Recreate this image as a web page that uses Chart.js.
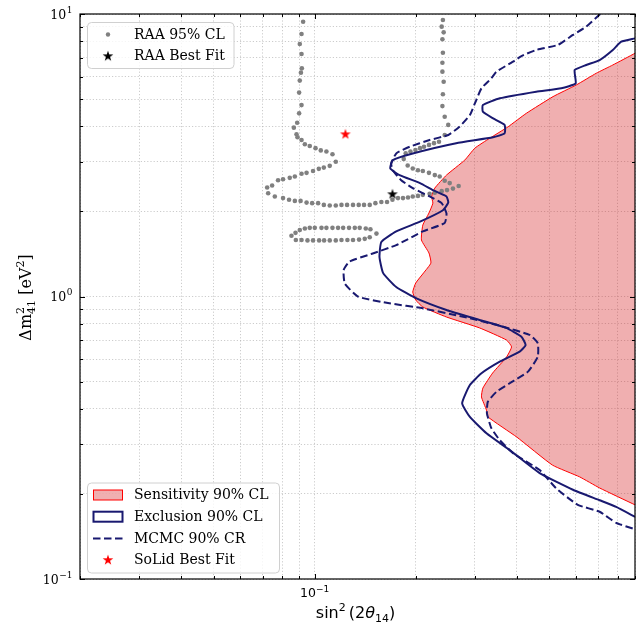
<!DOCTYPE html>
<html>
<head>
<meta charset="utf-8">
<script src="https://cdn.jsdelivr.net/npm/chart.js@4.4.1/dist/chart.umd.min.js"></script>
<style>
  html, body { margin: 0; padding: 0; background: #fff; }
  canvas { display: block; }
</style>
</head>
<body>
<canvas id="chart" width="641" height="626"></canvas>
<script>
// grid / tick positions of the two log axes
const xGridTicks = [0.02, 0.03, 0.04, 0.05, 0.06, 0.07, 0.08, 0.09, 0.1, 0.2, 0.3, 0.4, 0.5, 0.6, 0.7, 0.8, 0.9];
const yGridTicks = [0.1, 0.2, 0.3, 0.4, 0.5, 0.6, 0.7, 0.8, 0.9, 1, 2, 3, 4, 5, 6, 7, 8, 9, 10];

// every point is [sin^2(2θ14), Δm²41 (eV²)]
// sensitivity contour, top to bottom (filled to the right)
const sensitivity90 = [
  [0.9, 7.26], [0.773, 6.60], [0.690, 6.17], [0.602, 5.61], [0.513, 5.10], [0.427, 4.45],
  [0.377, 3.99], [0.332, 3.63], [0.300, 3.35], [0.280, 3.04], [0.247, 2.69], [0.228, 2.42],
  [0.223, 2.26], [0.225, 2.14], [0.219, 1.975], [0.210, 1.79], [0.208, 1.585], [0.219, 1.426],
  [0.222, 1.314], [0.211, 1.211], [0.200, 1.116], [0.196, 1.037], [0.200, 0.972], [0.210, 0.918],
  [0.247, 0.846], [0.310, 0.774], [0.373, 0.701], [0.386, 0.663], [0.373, 0.611], [0.339, 0.536],
  [0.317, 0.474], [0.314, 0.441], [0.325, 0.396], [0.328, 0.375], [0.400, 0.318], [0.511, 0.253],
  [0.615, 0.230], [0.706, 0.210], [0.9, 0.183]
];

const exclusion90 = [
  [0.9, 8.20], [0.819, 7.98], [0.773, 7.46], [0.706, 6.87], [0.644, 6.60], [0.595, 6.33],
  [0.599, 5.68], [0.543, 5.46], [0.457, 5.31], [0.356, 5.03], [0.317, 4.76], [0.317, 4.51],
  [0.340, 4.27], [0.368, 4.05], [0.368, 3.78], [0.340, 3.66], [0.264, 3.49], [0.196, 3.21],
  [0.171, 3.04], [0.168, 2.84], [0.179, 2.69], [0.206, 2.52], [0.225, 2.38], [0.247, 2.26],
  [0.250, 2.15], [0.241, 2.02], [0.206, 1.84], [0.175, 1.70], [0.158, 1.56], [0.156, 1.38],
  [0.160, 1.21], [0.175, 1.08], [0.201, 0.985], [0.247, 0.896], [0.310, 0.826], [0.372, 0.774],
  [0.413, 0.721], [0.425, 0.673], [0.408, 0.638], [0.356, 0.588], [0.314, 0.535], [0.290, 0.486],
  [0.275, 0.419], [0.290, 0.375], [0.325, 0.328], [0.381, 0.286], [0.468, 0.237], [0.588, 0.207],
  [0.706, 0.190], [0.791, 0.180], [0.9, 0.166]
];

const mcmc90 = [
  [0.709, 10.0], [0.644, 9.02], [0.588, 8.43], [0.530, 7.77], [0.457, 7.46], [0.413, 7.10],
  [0.390, 6.78], [0.348, 6.25], [0.336, 5.92], [0.314, 5.46], [0.303, 4.96], [0.290, 4.39],
  [0.270, 3.99], [0.250, 3.73], [0.220, 3.58], [0.192, 3.39], [0.175, 3.21], [0.169, 2.96],
  [0.171, 2.80], [0.181, 2.58], [0.196, 2.42], [0.220, 2.26], [0.239, 2.14], [0.247, 1.97],
  [0.244, 1.82], [0.210, 1.70], [0.175, 1.52], [0.149, 1.42], [0.127, 1.33], [0.122, 1.24],
  [0.123, 1.11], [0.135, 0.998], [0.167, 0.946], [0.210, 0.908], [0.277, 0.848], [0.364, 0.782],
  [0.437, 0.731], [0.462, 0.683], [0.462, 0.612], [0.432, 0.542], [0.381, 0.493], [0.348, 0.460],
  [0.328, 0.424], [0.326, 0.386], [0.336, 0.342], [0.356, 0.310], [0.390, 0.279], [0.468, 0.243],
  [0.525, 0.209], [0.608, 0.183], [0.706, 0.173], [0.791, 0.158], [0.9, 0.150]
];

const raaContour = [
  [0.0924, 9.39], [0.0914, 8.50], [0.0903, 7.83], [0.0914, 7.22], [0.0916, 6.42], [0.0910, 6.20],
  [0.0903, 5.81], [0.0899, 5.27], [0.0914, 4.76], [0.0899, 4.45], [0.0887, 4.12], [0.0867, 3.96],
  [0.0883, 3.75], [0.0889, 3.66], [0.0914, 3.58], [0.0935, 3.46], [0.0967, 3.41], [0.1006, 3.35],
  [0.1043, 3.29], [0.1084, 3.26], [0.1130, 3.19], [0.1156, 3.00], [0.1109, 2.90], [0.1065, 2.86],
  [0.1029, 2.83], [0.0989, 2.78], [0.0946, 2.74], [0.0914, 2.72], [0.0873, 2.66], [0.0843, 2.63],
  [0.0805, 2.60], [0.0778, 2.58], [0.0747, 2.47], [0.0722, 2.43], [0.0727, 2.32], [0.0761, 2.26],
  [0.0805, 2.23], [0.0839, 2.20], [0.0873, 2.18], [0.0908, 2.18], [0.0946, 2.15], [0.0983, 2.14],
  [0.1024, 2.14], [0.1065, 2.11], [0.1109, 2.10], [0.1156, 2.10], [0.1202, 2.11], [0.1249, 2.11],
  [0.1301, 2.11], [0.1353, 2.11], [0.1403, 2.11], [0.1459, 2.11], [0.1517, 2.14], [0.158, 2.16],
  [0.1643, 2.16], [0.1705, 2.20], [0.1771, 2.23], [0.1833, 2.23], [0.1897, 2.24], [0.196, 2.26],
  [0.2031, 2.27], [0.210, 2.29], [0.220, 2.31], [0.228, 2.33], [0.239, 2.36], [0.2479, 2.38],
  [0.2582, 2.41], [0.2685, 2.46], [0.2525, 2.52], [0.244, 2.57], [0.2358, 2.66], [0.228, 2.69],
  [0.219, 2.74], [0.210, 2.78], [0.2031, 2.80], [0.196, 2.84], [0.1893, 2.91], [0.1842, 3.07],
  [0.1867, 3.21], [0.1929, 3.26], [0.1996, 3.30], [0.206, 3.35], [0.2117, 3.39], [0.2191, 3.44],
  [0.2267, 3.49], [0.2346, 3.53], [0.244, 3.73], [0.250, 4.05], [0.244, 4.33], [0.2402, 4.72],
  [0.241, 5.20], [0.2423, 5.76], [0.2402, 6.25], [0.2402, 6.72], [0.241, 7.29], [0.2402, 8.14],
  [0.2423, 8.61], [0.239, 9.02], [0.241, 9.52]
];

const raaIsland = [
  [0.0903, 1.72], [0.0935, 1.74], [0.0967, 1.75], [0.1001, 1.75], [0.1048, 1.75], [0.1084, 1.75],
  [0.1130, 1.75], [0.1174, 1.75], [0.1216, 1.75], [0.1266, 1.75], [0.1317, 1.75], [0.1362, 1.75],
  [0.1420, 1.74], [0.1466, 1.73], [0.1528, 1.67], [0.1459, 1.62], [0.1410, 1.60], [0.1356, 1.59],
  [0.1301, 1.585], [0.1252, 1.585], [0.1202, 1.585], [0.1156, 1.58], [0.1109, 1.58], [0.1067, 1.58],
  [0.1031, 1.58], [0.0989, 1.58], [0.0952, 1.58], [0.0914, 1.585], [0.0879, 1.585], [0.0853, 1.64],
  [0.0877, 1.68]
];

const raaBestFit = [[0.1705, 2.30]];
const solidBestFit = [[0.1235, 3.75]];

const legendTop = ['RAA 95% CL', 'RAA Best Fit'];
const legendBottom = ['Sensitivity 90% CL', 'Exclusion 90% CL', 'MCMC 90% CR', 'SoLid Best Fit'];

const NAVY = '#191970';
const RED_FILL = 'rgba(214, 39, 40, 0.37)';
const GRAY = '#808080';
const DASH = [7.5, 3.5];

const toXY = arr => arr.map(([x, y]) => ({ x, y }));

// filled five point star, used as a point style
function starCanvas(color, r) {
  const c = document.createElement('canvas');
  const s = Math.ceil(r * 2 + 2);
  c.width = s;
  c.height = s;
  const g = c.getContext('2d');
  g.translate(s / 2, s / 2);
  g.beginPath();
  for (let i = 0; i < 10; i++) {
    const rad = i % 2 ? r * 0.382 : r;
    const a = -Math.PI / 2 + i * Math.PI / 5;
    g.lineTo(rad * Math.cos(a), rad * Math.sin(a));
  }
  g.closePath();
  g.fillStyle = color;
  g.fill();
  return c;
}
const blackStar = starCanvas('#000000', 5.6);
const redStar = starCanvas('#ff0000', 5.6);

function roundRect(ctx, x, y, w, h, r) {
  ctx.beginPath();
  ctx.moveTo(x + r, y);
  ctx.arcTo(x + w, y, x + w, y + h, r);
  ctx.arcTo(x + w, y + h, x, y + h, r);
  ctx.arcTo(x, y + h, x, y, r);
  ctx.arcTo(x, y, x + w, y, r);
  ctx.closePath();
}

// text made of pieces (super/subscripts), centred on cx
function drawRich(ctx, parts, cx, baseY) {
  const widths = parts.map(p => { ctx.font = p.f; return ctx.measureText(p.t).width; });
  const adv = parts.map((p, i) => {
    if (p.hold) return 0;
    const prev = i > 0 && parts[i - 1].hold ? widths[i - 1] : 0;
    return Math.max(widths[i], prev) + (p.gap || 0);
  });
  const total = adv.reduce((s, v) => s + v, 0);
  let x = cx - total / 2;
  parts.forEach((p, i) => {
    ctx.font = p.f;
    ctx.fillText(p.t, x, baseY + (p.dy || 0));
    x += adv[i];
  });
}

const isDecade = v => Math.abs(Math.log10(v) - Math.round(Math.log10(v))) < 1e-9;
const expText = v => { const e = Math.round(Math.log10(v)); return (e < 0 ? '\u2212' : '') + Math.abs(e); };

const decorations = {
  id: 'decorations',
  afterDraw(chart) {
    const { ctx, chartArea: a, scales: { x, y } } = chart;
    ctx.save();

    // legends
    const drawBox = (bx, by, bw, bh) => {
      roundRect(ctx, bx, by, bw, bh, 4);
      ctx.fillStyle = 'rgba(255,255,255,0.8)';
      ctx.fill();
      ctx.strokeStyle = '#d0d0d0';
      ctx.lineWidth = 1;
      ctx.stroke();
    };
    ctx.textBaseline = 'middle';
    ctx.textAlign = 'left';
    const hx = a.left + 28;     // handle centre
    const tx = a.left + 54;     // text start

    let bx = a.left + 7.5, by = a.top + 8.5;
    drawBox(bx, by, 146.5, 46);
    legendTop.forEach((label, i) => {
      const ry = by + 12 + i * 21.7;
      if (i === 0) {
        ctx.fillStyle = GRAY;
        ctx.beginPath();
        ctx.arc(hx, ry, 2.2, 0, Math.PI * 2);
        ctx.fill();
      } else {
        ctx.drawImage(blackStar, hx - blackStar.width / 2, ry - blackStar.height / 2);
      }
      ctx.fillStyle = '#000';
      ctx.font = '14px "DejaVu Serif"';
      ctx.fillText(label, tx, ry + 0.5);
    });

    by = a.bottom - 96;
    drawBox(bx, by, 192, 90);
    legendBottom.forEach((label, i) => {
      const ry = by + 12 + i * 21.7;
      if (i === 0) {
        ctx.fillStyle = RED_FILL;
        ctx.fillRect(hx - 14.5, ry - 5, 29, 10);
        ctx.strokeStyle = '#ff0000';
        ctx.lineWidth = 1;
        ctx.strokeRect(hx - 14.5, ry - 5, 29, 10);
      } else if (i === 1) {
        ctx.strokeStyle = NAVY;
        ctx.lineWidth = 2;
        ctx.strokeRect(hx - 14.5, ry - 5, 29, 10);
      } else if (i === 2) {
        ctx.strokeStyle = NAVY;
        ctx.lineWidth = 2;
        ctx.setLineDash(DASH);
        ctx.beginPath();
        ctx.moveTo(hx - 15, ry);
        ctx.lineTo(hx + 15, ry);
        ctx.stroke();
        ctx.setLineDash([]);
      } else {
        ctx.drawImage(redStar, hx - redStar.width / 2, ry - redStar.height / 2);
      }
      ctx.fillStyle = '#000';
      ctx.font = '14px "DejaVu Serif"';
      ctx.fillText(label, tx, ry + 0.5);
    });

    // inward ticks on all four sides
    ctx.strokeStyle = '#000';
    ctx.lineWidth = 1;
    ctx.beginPath();
    x.ticks.forEach(t => {
      const px = Math.round(x.getPixelForValue(t.value)) + 0.5;
      const len = isDecade(t.value) ? 5 : 3;
      ctx.moveTo(px, a.bottom); ctx.lineTo(px, a.bottom - len);
      ctx.moveTo(px, a.top); ctx.lineTo(px, a.top + len);
    });
    y.ticks.forEach(t => {
      const py = Math.round(y.getPixelForValue(t.value)) + 0.5;
      const len = isDecade(t.value) ? 5 : 3;
      ctx.moveTo(a.left, py); ctx.lineTo(a.left + len, py);
      ctx.moveTo(a.right, py); ctx.lineTo(a.right - len, py);
    });
    ctx.stroke();

    // frame
    ctx.lineWidth = 1.2;
    ctx.strokeRect(a.left, a.top, a.right - a.left, a.bottom - a.top);

    // tick labels (10^n)
    ctx.fillStyle = '#000';
    ctx.textBaseline = 'alphabetic';
    ctx.textAlign = 'left';
    y.ticks.filter(t => isDecade(t.value)).forEach(t => {
      const py = y.getPixelForValue(t.value);
      ctx.font = '12.5px "DejaVu Serif"';
      const w10 = ctx.measureText('10').width;
      ctx.font = '9px "DejaVu Serif"';
      const we = ctx.measureText(expText(t.value)).width;
      const x0 = a.left - 8 - w10 - we;
      ctx.font = '12.5px "DejaVu Serif"';
      ctx.fillText('10', x0, py + 4.5);
      ctx.font = '9px "DejaVu Serif"';
      ctx.fillText(expText(t.value), x0 + w10 + 0.5, py - 1.5);
    });
    x.ticks.filter(t => isDecade(t.value)).forEach(t => {
      const px = x.getPixelForValue(t.value);
      drawRich(ctx, [
        { t: '10', f: '12.5px "DejaVu Sans"' },
        { t: expText(t.value), f: '9px "DejaVu Sans"', dy: -5, gap: 0 }
      ], px, a.bottom + 17.5);
    });

    // axis titles
    drawRich(ctx, [
      { t: 'sin', f: '16px "DejaVu Sans"' },
      { t: '2', f: '11px "DejaVu Sans"', dy: -7, gap: 3 },
      { t: '(2', f: '16px "DejaVu Sans"' },
      { t: '\u03b8', f: 'italic 16px "DejaVu Sans"' },
      { t: '14', f: '11px "DejaVu Sans"', dy: 3.5 },
      { t: ')', f: '16px "DejaVu Sans"' }
    ], (a.left + a.right) / 2 - 2, a.bottom + 39);

    ctx.translate(31, (a.top + a.bottom) / 2 + 1);
    ctx.rotate(-Math.PI / 2);
    drawRich(ctx, [
      { t: '\u0394m', f: '16px "DejaVu Serif"' },
      { t: '2', f: '11px "DejaVu Serif"', dy: -7.5, hold: true },
      { t: '41', f: '11px "DejaVu Serif"', dy: 4 },
      { t: ' [eV', f: '16px "DejaVu Serif"' },
      { t: '2', f: '11px "DejaVu Serif"', dy: -7.5 },
      { t: ']', f: '16px "DejaVu Serif"' }
    ], 0, 0);

    ctx.restore();
  }
};

const gridStyle = { color: 'rgba(170,170,170,0.75)', lineWidth: 0.8, drawTicks: false };

new Chart(document.getElementById('chart'), {
  type: 'line',
  data: {
    datasets: [
      {
        label: 'SoLid Best Fit',
        data: toXY(solidBestFit),
        showLine: false,
        pointStyle: redStar,
        pointRadius: 5,
        fill: false,
        order: 1
      },
      {
        label: 'RAA Best Fit',
        data: toXY(raaBestFit),
        showLine: false,
        pointStyle: blackStar,
        pointRadius: 5,
        fill: false,
        order: 1
      },
      {
        label: 'Exclusion 90% CL',
        data: toXY(exclusion90),
        borderColor: NAVY,
        borderWidth: 2,
        tension: 0.15,
        pointRadius: 0,
        fill: false,
        order: 2
      },
      {
        label: 'MCMC 90% CR',
        data: toXY(mcmc90),
        borderColor: NAVY,
        borderWidth: 2,
        borderDash: DASH,
        tension: 0.15,
        pointRadius: 0,
        fill: false,
        order: 3
      },
      {
        label: 'RAA 95% CL',
        data: toXY(raaContour),
        showLine: false,
        pointRadius: 2.3,
        pointBorderWidth: 0,
        pointBackgroundColor: GRAY,
        fill: false,
        order: 4
      },
      {
        label: 'RAA 95% CL island',
        data: toXY(raaIsland),
        showLine: false,
        pointRadius: 2.3,
        pointBorderWidth: 0,
        pointBackgroundColor: GRAY,
        fill: false,
        order: 4
      },
      {
        label: 'Sensitivity 90% CL',
        data: toXY(sensitivity90),
        indexAxis: 'y',
        borderColor: '#ff0000',
        borderWidth: 1,
        backgroundColor: RED_FILL,
        tension: 0.15,
        pointRadius: 0,
        fill: { value: 1.0 },
        order: 5
      }
    ]
  },
  options: {
    responsive: false,
    animation: false,
    events: [],
    layout: { padding: { top: 14, right: 6, left: 0, bottom: 0 } },
    plugins: {
      legend: { display: false },
      tooltip: { enabled: false }
    },
    scales: {
      x: {
        type: 'logarithmic',
        min: 0.02,
        max: 0.9,
        afterBuildTicks: s => { s.ticks = xGridTicks.map(v => ({ value: v })); },
        afterFit: s => { s.height = 47; },
        grid: gridStyle,
        border: { display: false, dash: [1.2, 2] },
        ticks: { display: false, autoSkip: false }
      },
      y: {
        type: 'logarithmic',
        min: 0.1,
        max: 10,
        afterBuildTicks: s => { s.ticks = yGridTicks.map(v => ({ value: v })); },
        afterFit: s => { s.width = 80; },
        grid: gridStyle,
        border: { display: false, dash: [1.2, 2] },
        ticks: { display: false, autoSkip: false }
      }
    }
  },
  plugins: [decorations]
});
</script>
</body>
</html>
